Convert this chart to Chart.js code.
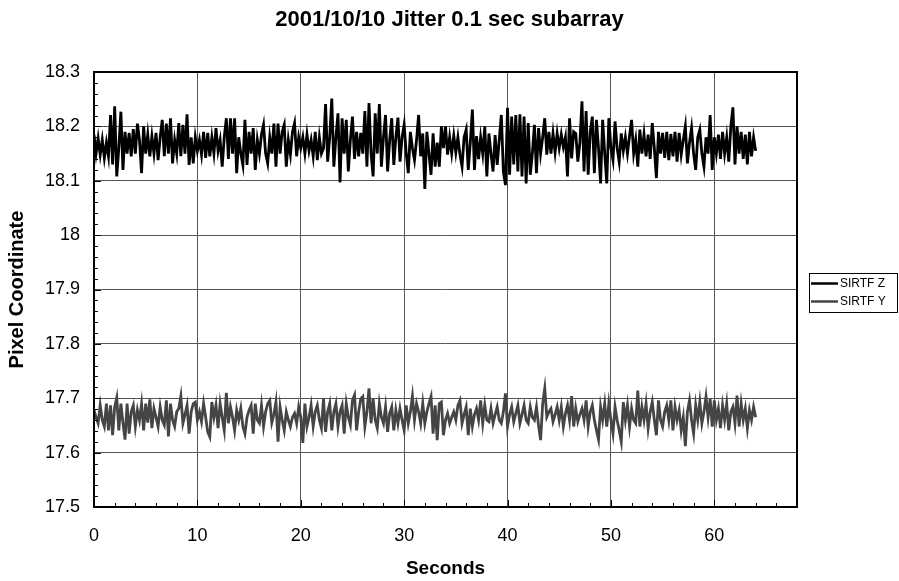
<!DOCTYPE html>
<html><head><meta charset="utf-8">
<script src="https://cdn.jsdelivr.net/npm/chart.js@4.4.0/dist/chart.umd.min.js"></script>
<style>html,body{margin:0;padding:0;background:#fff;}#wrap{width:899px;height:581px;}</style>
</head><body><div id="wrap"><canvas id="c" width="899" height="581"></canvas></div>
<script>
const chartTitle = '2001/10/10 Jitter 0.1 sec subarray';
const xAxisTitle = 'Seconds';
const yAxisTitle = 'Pixel Coordinate';
const seriesNames = ['SIRTF Z', 'SIRTF Y'];
const sampleStepSeconds = 0.2;
const xRange = [0, 68];
const xTickSteps = [10, 2];
const yRange = [17.5, 18.3];
const yTickSteps = [0.1, 0.02];

const sirtfZ = [
18.185,18.150,18.178,18.148,18.175,18.142,18.170,18.145,18.221,18.130,
18.237,18.108,18.160,18.227,18.120,18.190,18.150,18.188,18.145,18.195,
18.150,18.205,18.175,18.114,18.200,18.150,18.185,18.145,18.182,18.150,
18.188,18.138,18.180,18.212,18.145,18.205,18.150,18.215,18.132,18.175,
18.150,18.206,18.145,18.203,18.150,18.222,18.129,18.180,18.132,18.180,
18.155,18.175,18.148,18.190,18.142,18.188,18.145,18.180,18.150,18.197,
18.155,18.175,18.126,18.180,18.215,18.140,18.215,18.150,18.215,18.114,
18.180,18.150,18.129,18.212,18.129,18.190,18.150,18.197,18.120,18.175,
18.150,18.185,18.203,18.150,18.132,18.180,18.150,18.205,18.126,18.205,
18.150,18.190,18.203,18.126,18.175,18.148,18.190,18.206,18.145,18.180,
18.160,18.180,18.150,18.185,18.155,18.175,18.145,18.190,18.138,18.180,
18.150,18.160,18.241,18.135,18.180,18.251,18.126,18.180,18.224,18.097,
18.215,18.150,18.212,18.117,18.175,18.218,18.140,18.190,18.145,18.188,
18.150,18.228,18.126,18.243,18.150,18.108,18.224,18.150,18.241,18.126,
18.180,18.221,18.117,18.175,18.215,18.129,18.180,18.216,18.135,18.180,
18.203,18.150,18.114,18.190,18.160,18.138,18.175,18.221,18.145,18.187,
18.085,18.190,18.150,18.111,18.187,18.126,18.170,18.126,18.200,18.160,
18.200,18.148,18.180,18.150,18.183,18.152,18.180,18.148,18.126,18.180,
18.194,18.120,18.170,18.231,18.120,18.182,18.140,18.180,18.150,18.200,
18.108,18.187,18.150,18.117,18.184,18.129,18.175,18.221,18.117,18.092,
18.234,18.111,18.218,18.130,18.221,18.117,18.222,18.108,18.218,18.095,
18.206,18.111,18.150,18.203,18.114,18.197,18.150,18.180,18.215,18.148,
18.190,18.150,18.187,18.152,18.187,18.160,18.185,18.162,18.180,18.108,
18.215,18.141,18.190,18.187,18.135,18.170,18.246,18.117,18.228,18.111,
18.190,18.218,18.114,18.212,18.160,18.095,18.212,18.150,18.095,18.215,
18.160,18.138,18.209,18.160,18.135,18.187,18.155,18.180,18.150,18.182,
18.212,18.150,18.175,18.126,18.194,18.150,18.185,18.145,18.185,18.140,
18.206,18.160,18.105,18.190,18.150,18.188,18.142,18.190,18.138,18.186,
18.145,18.190,18.135,18.188,18.148,18.175,18.200,18.132,18.170,18.197,
18.150,18.120,18.180,18.194,18.150,18.126,18.180,18.150,18.221,18.120,
18.180,18.150,18.185,18.140,18.190,18.150,18.180,18.135,18.200,18.235,
18.130,18.200,18.150,18.190,18.140,18.185,18.130,18.190,18.145,18.180,
18.155
];

const sirtfY = [
17.678,17.665,17.654,17.687,17.660,17.648,17.690,17.641,17.687,17.632,
17.684,17.701,17.641,17.690,17.655,17.624,17.690,17.635,17.675,17.687,
17.648,17.678,17.660,17.690,17.641,17.690,17.655,17.698,17.645,17.681,
17.665,17.648,17.684,17.660,17.651,17.696,17.630,17.690,17.660,17.648,
17.675,17.681,17.704,17.654,17.670,17.687,17.635,17.675,17.690,17.693,
17.660,17.675,17.657,17.690,17.665,17.638,17.629,17.693,17.665,17.687,
17.645,17.690,17.665,17.641,17.710,17.654,17.684,17.665,17.641,17.678,
17.660,17.681,17.648,17.635,17.665,17.678,17.687,17.635,17.690,17.660,
17.654,17.687,17.648,17.675,17.690,17.696,17.655,17.670,17.693,17.620,
17.684,17.660,17.641,17.675,17.660,17.648,17.665,17.672,17.654,17.684,
17.665,17.618,17.690,17.648,17.665,17.687,17.648,17.675,17.687,17.660,
17.645,17.699,17.638,17.675,17.690,17.641,17.675,17.690,17.648,17.675,
17.687,17.635,17.690,17.665,17.651,17.696,17.706,17.641,17.675,17.699,
17.703,17.648,17.675,17.718,17.654,17.699,17.660,17.645,17.690,17.665,
17.654,17.684,17.638,17.672,17.684,17.641,17.678,17.654,17.681,17.660,
17.641,17.687,17.654,17.675,17.704,17.660,17.690,17.675,17.654,17.690,
17.654,17.675,17.690,17.703,17.635,17.687,17.623,17.690,17.693,17.632,
17.660,17.672,17.654,17.665,17.675,17.660,17.687,17.696,17.654,17.670,
17.684,17.632,17.681,17.648,17.670,17.681,17.660,17.696,17.654,17.687,
17.660,17.657,17.681,17.654,17.670,17.684,17.660,17.654,17.675,17.709,
17.648,17.670,17.684,17.657,17.672,17.687,17.654,17.670,17.687,17.660,
17.654,17.684,17.665,17.660,17.684,17.650,17.623,17.690,17.718,17.666,
17.675,17.681,17.657,17.670,17.684,17.660,17.684,17.648,17.672,17.687,
17.660,17.704,17.648,17.681,17.657,17.670,17.681,17.660,17.696,17.648,
17.675,17.687,17.660,17.641,17.624,17.684,17.660,17.690,17.648,17.690,
17.660,17.635,17.684,17.660,17.641,17.620,17.693,17.660,17.687,17.648,
17.681,17.660,17.654,17.714,17.648,17.684,17.660,17.690,17.645,17.675,
17.693,17.660,17.632,17.696,17.660,17.648,17.675,17.687,17.660,17.696,
17.641,17.684,17.660,17.678,17.641,17.665,17.612,17.675,17.696,17.660,
17.635,17.687,17.660,17.693,17.654,17.675,17.703,17.665,17.699,17.648,
17.696,17.660,17.681,17.645,17.687,17.660,17.690,17.641,17.675,17.684,
17.654,17.705,17.648,17.690,17.660,17.681,17.645,17.678,17.660,17.684,
17.665
];

const FONT = '"Liberation Sans", Arial, Helvetica, sans-serif';
const GRID = '#555555';
const seriesColors = ['#000000', '#454545'];

function isMultiple(v, step) {
  const r = v / step;
  return Math.abs(r - Math.round(r)) < 1e-6;
}
function toPoints(values) {
  return values.map((v, i) => ({ x: +(i * sampleStepSeconds).toFixed(2), y: v }));
}

const pageTitlePlugin = {
  id: 'pageTitle',
  afterDraw(chart) {
    const { ctx, width } = chart;
    ctx.save();
    ctx.fillStyle = '#000';
    ctx.font = 'bold 22px ' + FONT;
    ctx.textAlign = 'center';
    ctx.textBaseline = 'middle';
    ctx.fillText(chartTitle, width / 2, 20);
    ctx.restore();
  }
};

const frameTicksPlugin = {
  id: 'frameTicks',
  afterDatasetsDraw(chart) {
    const { ctx, chartArea: a, scales: { x, y } } = chart;
    ctx.save();
    ctx.strokeStyle = '#000';
    ctx.lineWidth = 1;
    ctx.beginPath();
    x.ticks.forEach(t => {
      const px = Math.round(x.getPixelForValue(t.value)) + 0.5;
      const len = isMultiple(t.value, xTickSteps[0]) ? 7 : 4;
      ctx.moveTo(px, a.bottom);
      ctx.lineTo(px, a.bottom - len);
    });
    y.ticks.forEach(t => {
      const py = Math.round(y.getPixelForValue(t.value)) + 0.5;
      const len = isMultiple(t.value, yTickSteps[0]) ? 7 : 4;
      ctx.moveTo(a.left, py);
      ctx.lineTo(a.left + len, py);
    });
    ctx.stroke();
    ctx.lineWidth = 2;
    ctx.strokeRect(a.left, a.top, a.right - a.left, a.bottom - a.top);
    ctx.restore();
  }
};

const boxLegendPlugin = {
  id: 'boxLegend',
  afterDraw(chart) {
    const { ctx, chartArea: a } = chart;
    const left = a.right + 12;
    const top = (a.top + a.bottom) / 2 - 16.5;
    const width = 88;
    const height = 39;
    ctx.save();
    ctx.fillStyle = '#fff';
    ctx.fillRect(left, top, width, height);
    ctx.strokeStyle = '#000';
    ctx.lineWidth = 1;
    ctx.strokeRect(left + 0.5, top + 0.5, width, height);
    ctx.font = '12px ' + FONT;
    ctx.textBaseline = 'middle';
    ctx.textAlign = 'left';
    chart.data.datasets.forEach((ds, i) => {
      const yy = top + 10.5 + i * 18;
      ctx.strokeStyle = ds.borderColor;
      ctx.lineWidth = 2.5;
      ctx.beginPath();
      ctx.moveTo(left + 2, yy);
      ctx.lineTo(left + 29, yy);
      ctx.stroke();
      ctx.fillStyle = '#000';
      ctx.fillText(ds.label, left + 31, yy + 0.5);
    });
    ctx.restore();
  }
};

new Chart(document.getElementById('c'), {
  type: 'line',
  data: {
    datasets: [
      { label: seriesNames[0], data: toPoints(sirtfZ), borderColor: seriesColors[0], borderWidth: 2.8, pointRadius: 0, tension: 0, fill: false },
      { label: seriesNames[1], data: toPoints(sirtfY), borderColor: seriesColors[1], borderWidth: 2.8, pointRadius: 0, tension: 0, fill: false }
    ]
  },
  options: {
    responsive: false,
    animation: false,
    events: [],
    layout: { padding: { left: 0, right: 102, top: 72, bottom: 0 } },
    plugins: {
      legend: { display: false },
      tooltip: { enabled: false },
      title: { display: false }
    },
    scales: {
      x: {
        type: 'linear', min: xRange[0], max: xRange[1],
        afterFit(s) { s.height = 74; },
        border: { display: false },
        grid: { drawTicks: false, lineWidth: 1, color: c => isMultiple(c.tick.value, xTickSteps[0]) ? GRID : 'rgba(0,0,0,0)' },
        ticks: {
          stepSize: xTickSteps[1], autoSkip: false, maxRotation: 0, padding: 18, color: '#000',
          font: { family: FONT, size: 18 },
          callback: v => isMultiple(v, xTickSteps[0]) ? String(Math.round(v)) : ''
        },
        title: { display: true, text: xAxisTitle, color: '#000', font: { family: FONT, size: 19, weight: 'bold' }, padding: { top: 0, bottom: 1 } }
      },
      y: {
        type: 'linear', min: yRange[0], max: yRange[1],
        afterFit(s) { s.width = 94; },
        border: { display: false },
        grid: { drawTicks: false, lineWidth: 1, color: c => isMultiple(c.tick.value, yTickSteps[0]) ? GRID : 'rgba(0,0,0,0)' },
        ticks: {
          stepSize: yTickSteps[1], autoSkip: false, padding: 14, color: '#000',
          font: { family: FONT, size: 18 },
          callback: v => isMultiple(v, yTickSteps[0]) ? String(Number(v.toFixed(1))) : ''
        },
        title: { display: true, text: yAxisTitle, color: '#000', font: { family: FONT, size: 20, weight: 'bold' }, padding: { top: 5, bottom: 0 } }
      }
    }
  },
  plugins: [pageTitlePlugin, frameTicksPlugin, boxLegendPlugin]
});
</script>
</body></html>
